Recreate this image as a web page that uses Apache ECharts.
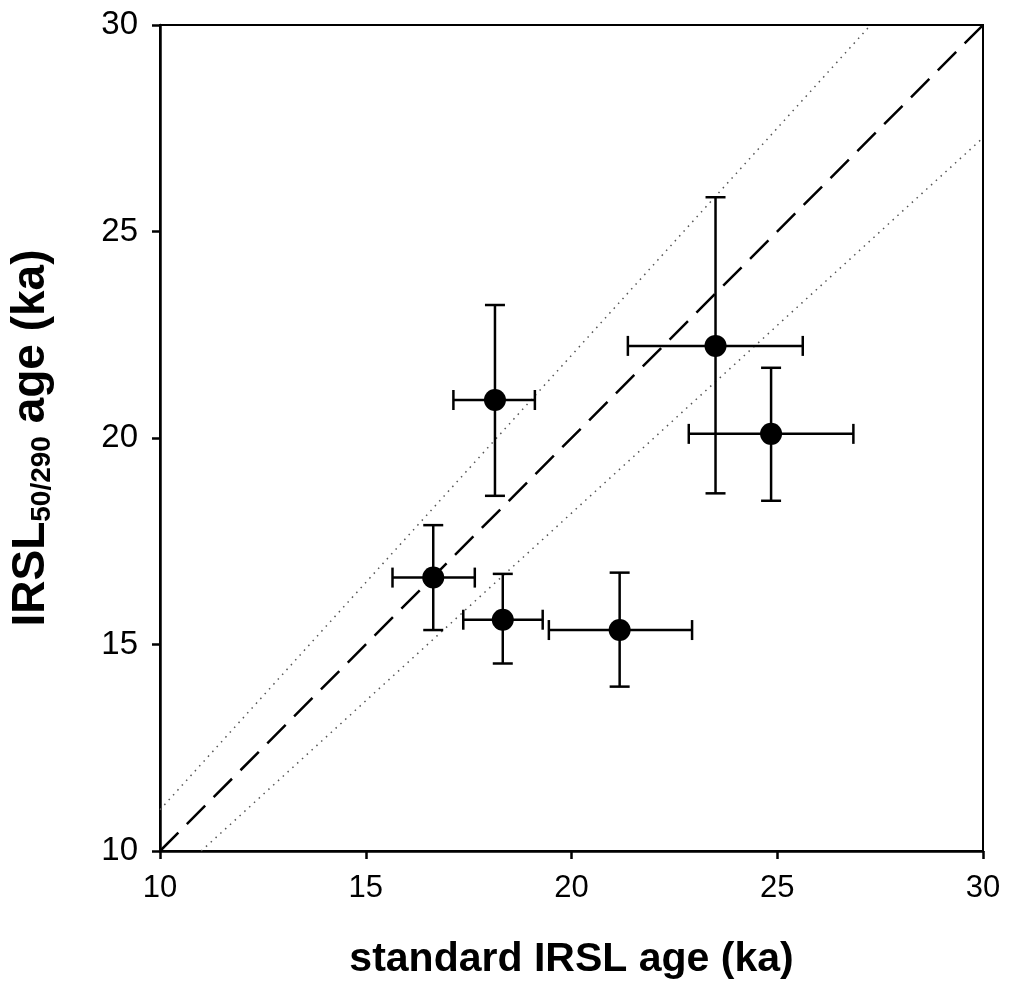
<!DOCTYPE html>
<html>
<head>
<meta charset="utf-8">
<script src="https://cdn.jsdelivr.net/npm/echarts@6/dist/echarts.min.js"></script>
<style>
  html, body { margin: 0; padding: 0; background: #fff; }
  #chart { width: 1010px; height: 1001px; }
</style>
</head>
<body>
<div id="chart"></div>
<script>
// sample ages (ka)
const stdAge = [16.64, 18.14, 18.33, 21.17, 23.50, 24.85]
const stdLow = [15.65, 17.13, 17.37, 19.45, 21.37, 22.85]
const stdHigh = [17.65, 19.11, 19.30, 22.93, 25.62, 26.85]
const pirAge = [16.62, 20.92, 15.60, 15.35, 22.23, 20.10]
const pirLow = [15.35, 18.60, 14.54, 13.98, 18.66, 18.48]
const pirHigh = [17.89, 23.22, 16.71, 16.74, 25.83, 21.70]

// reference lines: 1:1 and +/-10 %
const oneToOne = [[10, 10], [30, 30]]
const upperLine = [[10, 11], [27.27, 30]]
const lowerLine = [[11, 10], [30, 27.27]]

const axisTicks = [10, 15, 20, 25, 30]

const FONT = '"Liberation Sans", Arial, sans-serif'

const points = stdAge.map((x, i) => [x, pirAge[i]])
const errData = stdAge.map((x, i) => [x, pirAge[i], stdLow[i], stdHigh[i], pirLow[i], pirHigh[i]])

const chart = echarts.init(document.getElementById('chart'))

function renderErrorBar(params, api) {
  const x = api.value(0)
  const y = api.value(1)
  const c = api.coord([x, y])
  const l = api.coord([api.value(2), y])
  const r = api.coord([api.value(3), y])
  const b = api.coord([x, api.value(4)])
  const t = api.coord([x, api.value(5)])
  const cap = 10
  const style = { stroke: '#000', lineWidth: 2.5 }
  const line = (x1, y1, x2, y2) => ({ type: 'line', shape: { x1, y1, x2, y2 }, style })
  return {
    type: 'group',
    children: [
      line(l[0], c[1], r[0], c[1]),
      line(l[0], c[1] - cap, l[0], c[1] + cap),
      line(r[0], c[1] - cap, r[0], c[1] + cap),
      line(c[0], b[1], c[0], t[1]),
      line(c[0] - cap, b[1], c[0] + cap, b[1]),
      line(c[0] - cap, t[1], c[0] + cap, t[1])
    ]
  }
}

chart.setOption({
  animation: false,
  backgroundColor: '#fff',
  grid: {
    left: 159,
    right: 27,
    top: 25,
    bottom: 150,
    show: true,
    borderColor: '#000',
    borderWidth: 2
  },
  xAxis: {
    type: 'value',
    min: axisTicks[0],
    max: axisTicks[axisTicks.length - 1],
    interval: 5,
    splitLine: { show: false },
    axisLine: { onZero: false, lineStyle: { color: '#000', width: 2.5 } },
    axisTick: { inside: false, length: 8, lineStyle: { color: '#000', width: 2.5 } },
    axisLabel: { color: '#000', fontSize: 31, fontFamily: FONT, margin: 22 },
    name: 'standard IRSL age (ka)',
    nameLocation: 'middle',
    nameGap: 88,
    nameTextStyle: { color: '#000', fontSize: 41, fontWeight: 'bold', fontFamily: FONT }
  },
  yAxis: {
    type: 'value',
    min: axisTicks[0],
    max: axisTicks[axisTicks.length - 1],
    interval: 5,
    splitLine: { show: false },
    axisLine: { onZero: false, lineStyle: { color: '#000', width: 2.5 } },
    axisTick: { inside: false, length: 8, lineStyle: { color: '#000', width: 2.5 } },
    axisLabel: { color: '#000', fontSize: 33, fontFamily: FONT, margin: 22 },
    name: '{a|IRSL}{s|50/290}{a| age (ka)}',
    nameLocation: 'middle',
    nameGap: 104,
    nameRotate: 90,
    nameTextStyle: {
      color: '#000',
      fontFamily: FONT,
      rich: {
        a: { fontSize: 46, fontWeight: 'bold', fontFamily: FONT, color: '#000', lineHeight: 50 },
        s: { fontSize: 28, fontWeight: 'bold', fontFamily: FONT, color: '#000', lineHeight: 34, verticalAlign: 'bottom' }
      }
    }
  },
  series: [
    {
      type: 'line',
      data: oneToOne,
      symbol: 'none',
      lineStyle: { color: '#000', width: 2.5, type: [26, 12] },
      z: 1
    },
    {
      type: 'line',
      data: upperLine,
      symbol: 'none',
      lineStyle: { color: '#555', width: 1.5, type: [1.5, 5] },
      z: 1
    },
    {
      type: 'line',
      data: lowerLine,
      symbol: 'none',
      lineStyle: { color: '#555', width: 1.5, type: [1.5, 5] },
      z: 1
    },
    {
      type: 'custom',
      renderItem: renderErrorBar,
      data: errData,
      encode: { x: 0, y: 1 },
      z: 2
    },
    {
      type: 'scatter',
      data: points,
      symbol: 'circle',
      symbolSize: 22,
      itemStyle: { color: '#000', opacity: 1 },
      z: 3
    }
  ]
})
</script>
</body>
</html>
